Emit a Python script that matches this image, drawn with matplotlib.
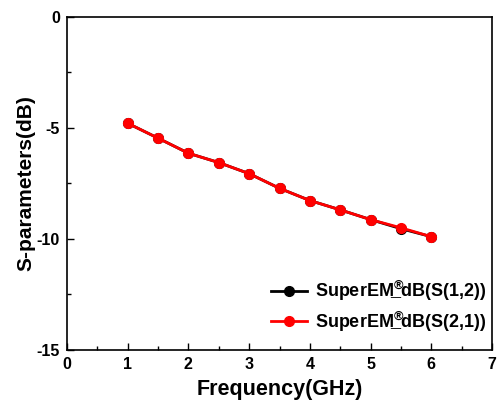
import matplotlib
matplotlib.use("Agg")
import matplotlib.pyplot as plt
from matplotlib.ticker import MultipleLocator

freq = [1, 1.5, 2, 2.5, 3, 3.5, 4, 4.5, 5, 5.5, 6]
s12 = [-4.79, -5.46, -6.14, -6.56, -7.06, -7.72, -8.27, -8.69, -9.13, -9.54, -9.90]
s21 = [-4.79, -5.46, -6.14, -6.56, -7.06, -7.72, -8.27, -8.69, -9.13, -9.50, -9.90]
labels = [r"SuperEM$^{®}\!\!\!\!$_dB(S(1,2))", r"SuperEM$^{®}\!\!\!\!$_dB(S(2,1))"]

plt.rcParams['font.family'] = ['Liberation Sans', 'DejaVu Sans']
plt.rcParams['font.weight'] = 'bold'
plt.rcParams['axes.unicode_minus'] = False
plt.rcParams['mathtext.fontset'] = 'custom'
plt.rcParams['mathtext.rm'] = 'Liberation Sans:bold'
plt.rcParams['mathtext.default'] = 'rm'

fig = plt.figure(figsize=(4.98, 4.04), dpi=100)
ax = fig.add_axes([0.1345, 0.134, 0.8535, 0.824])

# series
ax.plot(freq, s12, color="black", linewidth=2, marker="o", markersize=7, label=labels[0])
ax.plot(freq, s21, color="red", linewidth=2, marker="o", markersize=7, label=labels[1])

ax.set_xlim(0, 7)
ax.set_ylim(-15, 0)
ax.xaxis.set_major_locator(MultipleLocator(1))
ax.xaxis.set_minor_locator(MultipleLocator(0.5))
ax.yaxis.set_major_locator(MultipleLocator(5))
ax.yaxis.set_minor_locator(MultipleLocator(2.5))
ax.tick_params(which='both', direction='in', top=False, right=False, labelsize=11.5, width=1)
ax.tick_params(which='major', length=5, pad=5)
ax.tick_params(which='minor', length=3)
for lab in ax.get_xticklabels() + ax.get_yticklabels():
    lab.set_fontweight('bold')
for sp in ax.spines.values():
    sp.set_linewidth(1.2)

ax.set_xlabel("Frequency(GHz)", fontsize=15.5, fontweight='bold', labelpad=5)
ax.set_ylabel("S-parameters(dB)", fontsize=15, fontweight='bold', labelpad=1)

ax.legend(loc='lower right', frameon=False, fontsize=13, handlelength=2.0,
          bbox_to_anchor=(1.025, 0.0), labelspacing=0.35, handletextpad=0.45)

plt.savefig("out.png", dpi=100)
